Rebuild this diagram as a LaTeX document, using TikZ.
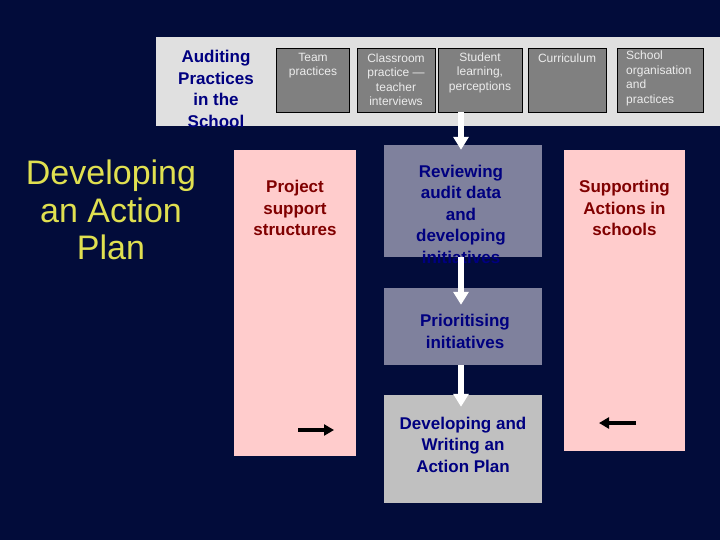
\documentclass[tikz,border=0pt]{standalone}
\usepackage{fontspec}
\setmainfont{Liberation Sans}
\usetikzlibrary{arrows.meta}
\definecolor{bgnavy}{RGB}{2,12,58}
\definecolor{bandgray}{RGB}{224,224,224}
\definecolor{boxgray}{RGB}{128,128,128}
\definecolor{boxtext}{RGB}{236,236,236}
\definecolor{pinkbox}{RGB}{255,204,204}
\definecolor{bluegray}{RGB}{127,129,157}
\definecolor{lightbox}{RGB}{192,192,192}
\definecolor{navytext}{RGB}{0,0,128}
\definecolor{redtext}{RGB}{128,0,0}
\definecolor{yellowtext}{RGB}{224,224,80}
\tikzset{
  topbox/.style={draw=black, line width=0.8pt, fill=boxgray, inner sep=0pt},
  toptext/.style={text=boxtext, font=\fontsize{12}{14.5}\selectfont, align=center, inner sep=0pt},
  pinkpanel/.style={fill=pinkbox, draw=none, inner sep=0pt},
  flowbox/.style={draw=none, inner sep=0pt},
  boldtext/.style={font=\bfseries\fontsize{17}{21.5}\selectfont, align=center, inner sep=0pt},
  whitearrow/.style={draw=white, line width=6pt, -{Triangle[width=15pt,length=13pt]}},
  blackarrow/.style={draw=black, line width=3.5pt, -{Triangle[width=11pt,length=10pt]}}
}
\begin{document}
\begin{tikzpicture}[x=1pt,y=-1pt]
\fill[bgnavy] (0,0) rectangle (720,540);
\useasboundingbox (0,0) rectangle (720,540);
% band
\fill[bandgray] (156,37) rectangle (720,126);
\node[boldtext, text=navytext] (audit) at (216,89) {Auditing\\Practices\\in the\\School};
% top boxes
\node[topbox, minimum width=73pt, minimum height=64pt] (team) at (312.5,80) {};
\node[topbox, minimum width=78pt, minimum height=64pt] (class) at (396.5,80) {};
\node[topbox, minimum width=84pt, minimum height=64pt] (stud) at (480,80) {};
\node[topbox, minimum width=78pt, minimum height=64pt] (curr) at (567,80) {};
\node[topbox, minimum width=86pt, minimum height=64pt] (org) at (660,80) {};
\node[toptext] (teamt) at (313,65.5) {Team\\practices};
\node[toptext] (classt) at (396,79.5) {Classroom\\practice ---\\teacher\\interviews};
\node[toptext] (studt) at (480,72.5) {Student\\learning,\\perceptions};
\node[toptext] (currt) at (567,58.5) {Curriculum};
\node[toptext, align=left, anchor=west] (orgt) at (626,78.5) {School\\organisation\\and\\practices};
% title
\node[font=\fontsize{34}{37.5}\selectfont, text=yellowtext, align=center, inner sep=0pt] (title) at (111,210) {Developing\\an Action\\Plan};
% pink panels
\node[pinkpanel, minimum width=122pt, minimum height=306pt] (left) at (295,303) {};
\node[pinkpanel, minimum width=121pt, minimum height=301pt] (right) at (624.5,300.5) {};
\node[boldtext, text=redtext] (leftt) at (295,208) {Project\\support\\structures};
\node[boldtext, text=redtext] (rightt) at (624.5,208) {Supporting\\Actions in\\schools};
% flow boxes
\node[flowbox, fill=bluegray, minimum width=158pt, minimum height=112pt] (rev) at (463,201) {};
\node[flowbox, fill=bluegray, minimum width=158pt, minimum height=77pt] (prio) at (463,326.5) {};
\node[flowbox, fill=lightbox, minimum width=158pt, minimum height=108pt] (dev) at (463,449) {};
\node[boldtext, text=navytext] (revt) at (461,214) {Reviewing\\audit data\\and\\developing\\initiatives};
\node[boldtext, text=navytext] (priot) at (465,331.5) {Prioritising\\initiatives};
\node[boldtext, text=navytext] (devt) at (463,444.5) {Developing and\\Writing an\\Action Plan};
% white arrows
\draw[whitearrow] ([xshift=-19pt]stud.south) -- ([xshift=-2pt,yshift=-5pt]rev.north);
\draw[whitearrow] ([xshift=-2pt]rev.south) -- ([xshift=-2pt,yshift=-17pt]prio.north);
\draw[whitearrow] ([xshift=-2pt]prio.south) -- ([xshift=-2pt,yshift=-12pt]dev.north);
% black arrows
\coordinate (la) at (298,430);
\coordinate (lb) at (334,430);
\coordinate (ra) at (636,423);
\coordinate (rb) at (599,423);
\draw[blackarrow] (la) -- (lb);
\draw[blackarrow] (ra) -- (rb);
\end{tikzpicture}
\end{document}
